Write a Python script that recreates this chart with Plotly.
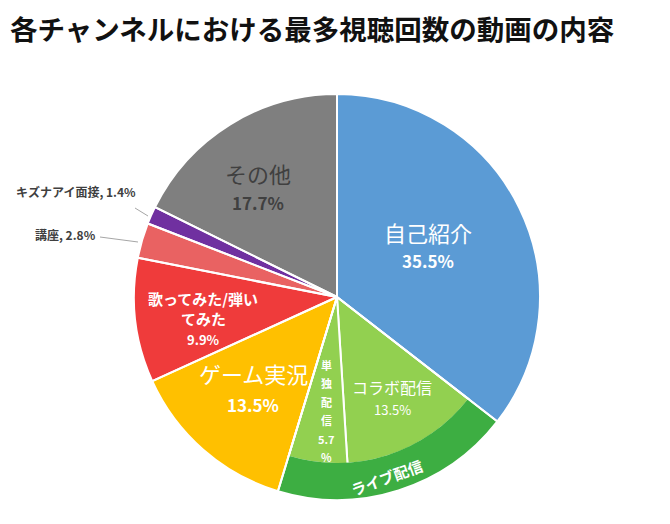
import plotly.graph_objects as go

W, H = 670, 524
OFF = 8  # page body margin

title = "各チャンネルにおける最多視聴回数の動画の内容"

# main categories, clockwise from 12 o'clock
labels = ["自己紹介", "ライブ配信", "ゲーム実況", "歌ってみた/弾いてみた", "講座", "キズナアイ面接", "その他"]
colors = ["#5B9BD5", "#3DAE42", "#FFC000", "#EF3B3B", "#E96262", "#7030A0", "#7F7F7F"]

# ライブ配信 is split into two parts
live_labels = ["コラボ配信", "単独配信"]
live_values = [13.5, 5.7]
live_colors = ["#92D050", "#92D050"]

other_values = {"自己紹介": 35.5, "ゲーム実況": 13.5, "歌ってみた/弾いてみた": 9.9,
                "講座": 2.8, "キズナアイ面接": 1.4, "その他": 17.7}

values = [round(sum(live_values), 1) if l == "ライブ配信" else other_values[l] for l in labels]

inner_labels, inner_values, inner_colors, inner_lines = [], [], [], []
for l, v in zip(labels, values):
    if l == "ライブ配信":
        inner_labels += live_labels
        inner_values += live_values
        inner_colors += live_colors
        inner_lines += ["white", "white"]
    else:
        inner_labels.append(l)
        inner_values.append(v)
        inner_colors.append("rgba(0,0,0,0)")
        inner_lines.append("rgba(0,0,0,0)")

NONE = "rgba(0,0,0,0)"
cx, cy, R, r_in = 337, 297, 203, 167


def px(x):
    return (x - OFF) / W


def py(y):
    return 1 - (y - OFF) / H


def dom(r):
    return dict(x=[px(cx - r), px(cx + r)], y=[py(cy + r), py(cy - r)])


common = dict(sort=False, direction="clockwise", rotation=0, textinfo="none",
              hoverinfo="skip", showlegend=False)

fig = go.Figure()
# outer fills
fig.add_trace(go.Pie(labels=labels, values=values, domain=dom(R),
                     marker=dict(colors=colors, line=dict(width=0)), **common))
# inner split of ライブ配信
fig.add_trace(go.Pie(labels=inner_labels, values=inner_values, domain=dom(r_in),
                     marker=dict(colors=inner_colors, line=dict(color=inner_lines, width=2)), **common))
# outer ring of ライブ配信
fig.add_trace(go.Pie(labels=labels, values=values, domain=dom(R), hole=(r_in - 1) / R,
                     marker=dict(colors=[c if l == "ライブ配信" else NONE for l, c in zip(labels, colors)],
                                 line=dict(width=0)), **common))
# white slice borders on top
fig.add_trace(go.Pie(labels=labels, values=values, domain=dom(R),
                     marker=dict(colors=[NONE] * len(labels), line=dict(color="white", width=2)), **common))

font = "Noto Sans CJK JP"
ann = []


def txt(x, y, s, size, color="white", bold=False, angle=0, xanchor="center"):
    ann.append(dict(x=px(x), y=py(y), xref="paper", yref="paper", text=f"<b>{s}</b>" if bold else s,
                    showarrow=False, xanchor=xanchor, yanchor="middle", textangle=angle,
                    font=dict(family=font, size=size, color=color)))


v = dict(zip(labels, values))
lv = dict(zip(live_labels, live_values))

txt(8, 28, title, 27.5, "#111111", bold=True, xanchor="left")

txt(428, 232, "自己紹介", 22)
txt(428, 260, f"{v['自己紹介']}%", 17, bold=True)

txt(258, 173, "その他", 22, "#404040")
txt(258, 202, f"{v['その他']}%", 17, "#404040", bold=True)

txt(203, 298, "歌ってみた/弾い", 15, bold=True)
txt(203, 318, "てみた", 15, bold=True)
txt(203, 339, f"{v['歌ってみた/弾いてみた']}%", 13, bold=True)

txt(253, 373, "ゲーム実況", 22)
txt(253, 404, f"{v['ゲーム実況']}%", 17, bold=True)

txt(392, 387, "コラボ配信", 16)
txt(392, 409, f"{lv['コラボ配信']}%", 13)

for i, ch in enumerate(["単", "独", "配", "信", f"{lv['単独配信']}", "%"]):
    txt(326, 365 + i * 18.4, ch, 11, bold=True)

txt(386, 477, "ライブ配信", 15, bold=True, angle=-20)

txt(138, 192, f"キズナアイ面接, {v['キズナアイ面接']}%", 12, "#404040", bold=True, xanchor="right")
txt(98, 234, f"講座, {v['講座']}%", 12, "#404040", bold=True, xanchor="right")

shapes = [
    dict(type="line", xref="paper", yref="paper", x0=px(135), y0=py(208), x1=px(148), y1=py(216),
         line=dict(color="#A6A6A6", width=1)),
    dict(type="line", xref="paper", yref="paper", x0=px(100), y0=py(237), x1=px(138), y1=py(242),
         line=dict(color="#A6A6A6", width=1)),
]

fig.update_layout(width=W, height=H, margin=dict(l=0, r=0, t=0, b=0),
                  paper_bgcolor="white", plot_bgcolor="white",
                  annotations=ann, shapes=shapes)

fig.write_html("out.html")
